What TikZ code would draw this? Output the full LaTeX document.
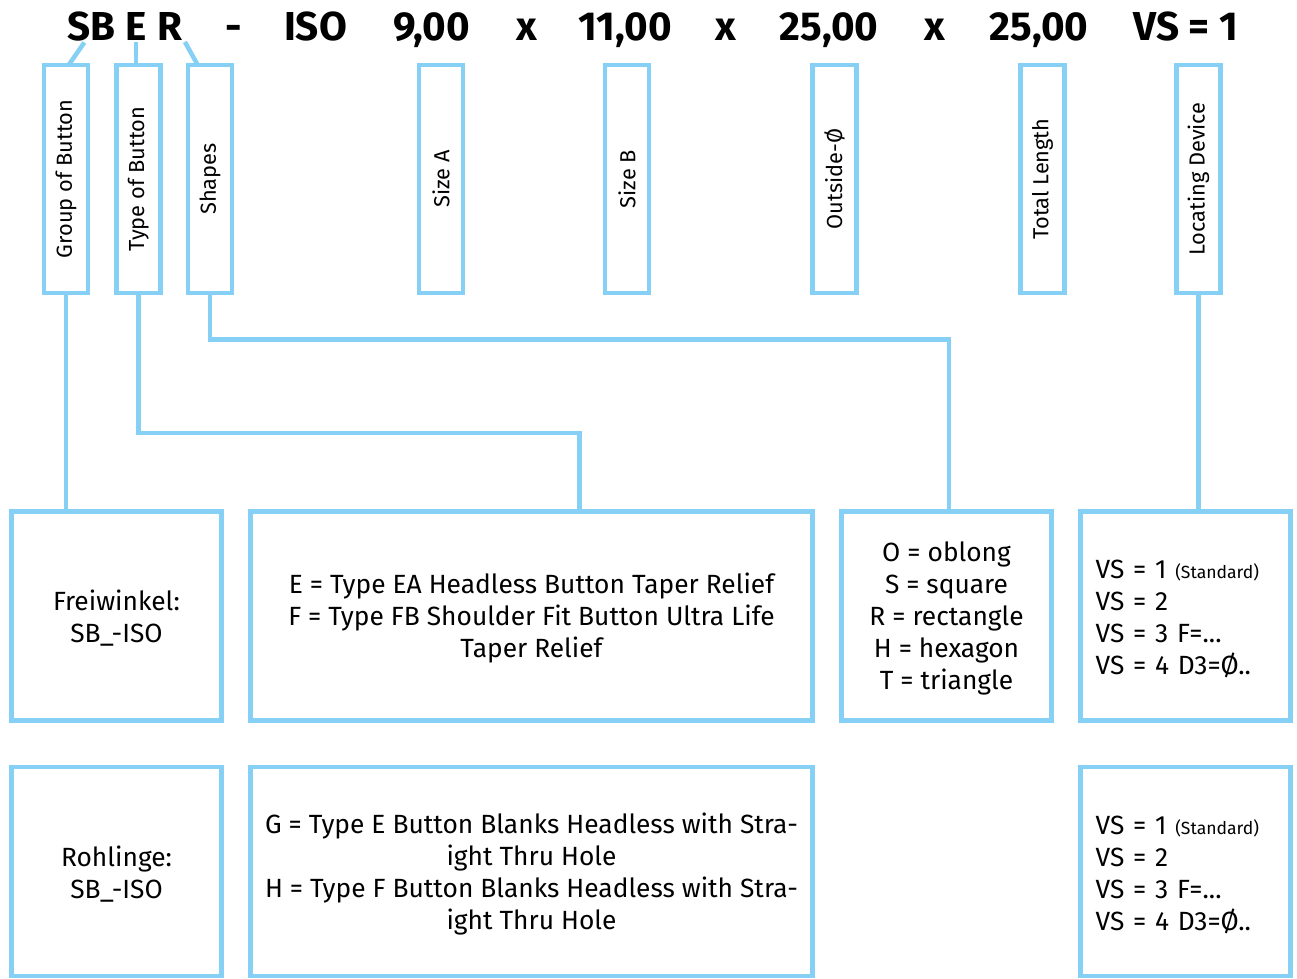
\documentclass[tikz,border=0pt]{standalone}
\usepackage{fontspec}
\setmainfont{Fira Sans}
\usepackage{graphicx}
\definecolor{skyline}{RGB}{135,208,245}
\usetikzlibrary{positioning}

\begin{document}
\begin{tikzpicture}[
  x=0.02cm, y=-0.02cm,
  hdr/.style={font=\fontsize{23}{26}\selectfont\bfseries, inner sep=0pt, anchor=base},
  vbox/.style={draw=skyline, line width=0.09cm, minimum width=0.88cm, minimum height=4.56cm, inner sep=0pt, outer sep=0pt, font=\fontsize{12.4}{15}\selectfont},
  infobox/.style={draw=skyline, line width=0.09cm, minimum width=4.2cm, minimum height=4.18cm, inner sep=0pt, outer sep=0pt, align=center, font=\fontsize{15}{18.2}\selectfont},
  conn/.style={draw=skyline, line width=0.09cm}
]
  \useasboundingbox (0,0) rectangle (1297,978);

  % code line
  \node[hdr] (hSB) at (91.5,40) {SB};
  \node[hdr] (hE) at (136,40) {E};
  \node[hdr] (hR) at (169.5,40) {R};
  \node[hdr] (hdash) at (233.5,40) {-};
  \node[hdr] (hISO) at (315.5,40) {ISO};
  \node[hdr] (hA) at (431.5,40) {9,00};
  \node[hdr] (hx1) at (527,40) {x};
  \node[hdr] (hB) at (625.5,40) {11,00};
  \node[hdr] (hx2) at (725.5,40) {x};
  \node[hdr] (hD) at (829,40) {25,00};
  \node[hdr] (hx3) at (935,40) {x};
  \node[hdr] (hL) at (1039,40) {25,00};
  \node[hdr] (hVS) at (1186,40) {VS = 1};

  % vertical labels
  \node[vbox] (grp) at (66,179) {\rotatebox{90}{Group of Button}};
  \node[vbox] (typ) at (138.3,179) {\rotatebox{90}{Type of Button}};
  \node[vbox] (shp) at (210,179) {\rotatebox{90}{Shapes}};
  \node[vbox] (sza) at (441,179) {\rotatebox{90}{Size A}};
  \node[vbox] (szb) at (627,179) {\rotatebox{90}{Size B}};
  \node[vbox] (out) at (834.6,179) {\rotatebox{90}{Outside-Ø}};
  \node[vbox] (tot) at (1042.5,179) {\rotatebox{90}{Total Length}};
  \node[vbox] (loc) at (1198.5,179) {\rotatebox{90}{Locating Device}};

  % ticks
  \draw[conn, shorten <=1pt] ([xshift=-3.5pt]hSB.south) -- ([xshift=1.5pt]grp.north);
  \draw[conn, shorten <=1pt] (hE.south) -- (hE.south |- typ.north);
  \draw[conn, shorten <=1pt] ([xshift=1pt]hR.south east) -- ([xshift=-7pt]shp.north);

  % first row
  \node[infobox] (frei) at (116.5,616) {\\[-4pt]Freiwinkel:\\SB\_-ISO};
  \node[infobox, minimum width=11.24cm] (typeE) at (531.5,616) {\\[-4pt]E = Type EA Headless Button Taper Relief\\F = Type FB Shoulder Fit Button Ultra Life\\Taper Relief};
  \node[infobox] (form) at (946.5,616) {\\[-4pt]O = oblong\\S = square\\R = rectangle\\H = hexagon\\T = triangle};
  \node[infobox, text width=3.6cm, align=left] (vsA) at (1185.7,616) {\\[-4pt]VS = 1 {\fontsize{10}{12}\selectfont(Standard)}\\VS = 2\\VS = 3 F=...\\VS = 4 D3=Ø..};

  % second row
  \node[infobox] (rohl) at (116.5,871.5) {\\[-4pt]Rohlinge:\\SB\_-ISO};
  \node[infobox, minimum width=11.24cm] (typeG) at (531.5,871.5) {\\[-4pt]G = Type E Button Blanks Headless with Stra-\\ight Thru Hole\\H = Type F Button Blanks Headless with Stra-\\ight Thru Hole};
  \node[infobox, text width=3.6cm, align=left] (vsB) at (1185.7,871.5) {\\[-4pt]VS = 1 {\fontsize{10}{12}\selectfont(Standard)}\\VS = 2\\VS = 3 F=...\\VS = 4 D3=Ø..};

  % connectors
  \coordinate (kT) at (579.5,433);
  \coordinate (kS) at (949,339.5);
  \draw[conn] (grp.south) -- (grp.south |- frei.north);
  \draw[conn] (typ.south) |- (kT) -- (kT |- typeE.north);
  \draw[conn] (shp.south) |- (kS) -- (kS |- form.north);
  \draw[conn] (loc.south) -- (loc.south |- vsA.north);
\end{tikzpicture}
\end{document}
